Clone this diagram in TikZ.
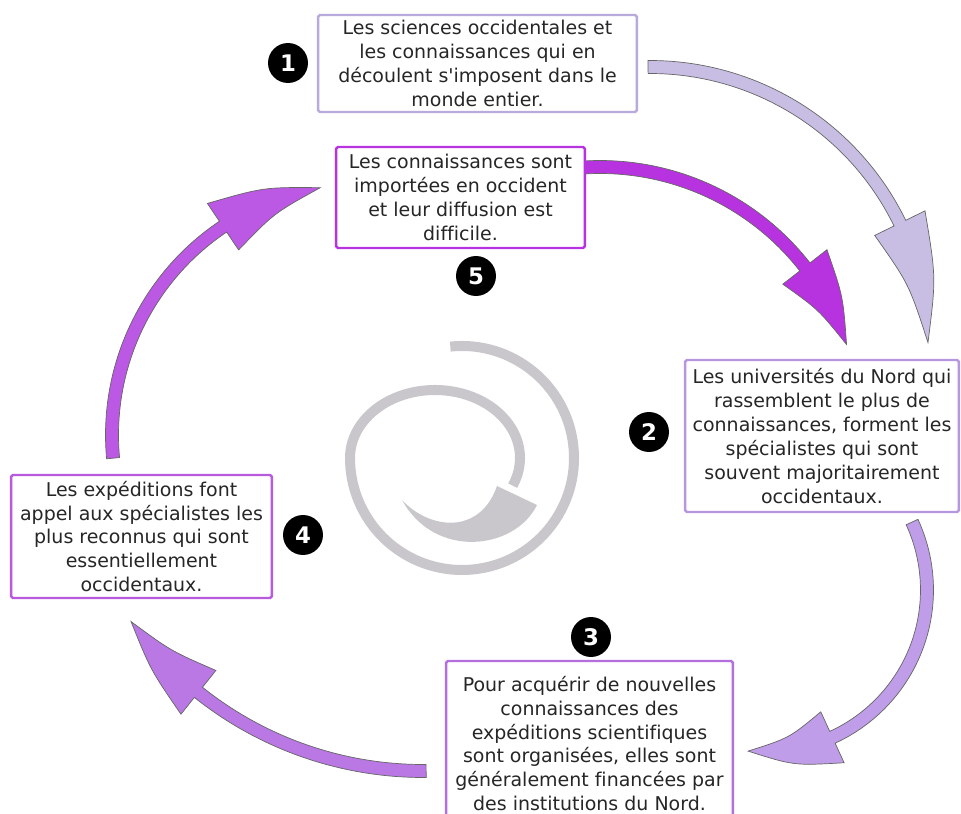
\documentclass[tikz,border=0pt]{standalone}
\usepackage{fontspec}
\setmainfont{DejaVu Sans}[Ligatures=NoCommon]
\definecolor{lavlight}{RGB}{200,190,228}
\definecolor{lavbox}{RGB}{184,170,218}
\definecolor{magentafive}{RGB}{184,51,224}
\definecolor{lavmid}{RGB}{191,157,232}
\definecolor{lavmidbox}{RGB}{183,150,224}
\definecolor{purplethree}{RGB}{185,120,228}
\definecolor{purplethreebox}{RGB}{180,110,222}
\definecolor{purplefour}{RGB}{187,88,228}
\definecolor{purplefourbox}{RGB}{184,90,222}
\definecolor{spiralgray}{RGB}{201,199,204}

% big curved block arrow: centre x, centre y, radius, start, head base, tip angle, colour
\newcommand{\cyclearrow}[7]{%
  \pgfmathsetmacro{\ro}{#3+6.5}
  \pgfmathsetmacro{\ri}{#3-6.5}
  \pgfmathsetmacro{\ho}{#3+28}
  \pgfmathsetmacro{\hi}{#3-28}
  \pgfmathsetmacro{\co}{#3+16}
  \pgfmathsetmacro{\ci}{#3-12}
  \pgfmathsetmacro{\amid}{(#5+#6)/2}
  \filldraw[arrowline, fill=#7, shift={(#1,#2)}]
    (#4:\ro) arc[start angle=#4, end angle=#5, radius=\ro]
    -- (#5:\ho) .. controls (\amid:\co) .. (#6:#3)
    .. controls (\amid:\ci) .. (#5:\hi)
    -- (#5:\ri) arc[start angle=#5, end angle=#4, radius=\ri] -- cycle;
}

\begin{document}
\begin{tikzpicture}[x=0.02cm, y=-0.02cm,
  box/.style={draw=#1, fill=white, line width=1.4pt, rounded corners=1pt,
    align=center, inner sep=0pt, text=black!85,
    font=\fontsize{10.8}{13.6}\selectfont},
  numdot/.style={circle, fill=black, text=white, minimum size=0.8cm,
    inner sep=0pt, font=\fontsize{13}{13}\selectfont\bfseries},
  arrowline/.style={draw=black!60, line width=0.4pt},
  spiral/.style={draw=spiralgray, line width=5.7pt}]
\useasboundingbox (0,0) rectangle (961,814);
\clip (0,0) rectangle (961,814);

% Cycle arrows
\cyclearrow{650}{345}{278}{-90.4}{-26}{-0.5}{lavlight}
\cyclearrow{600}{427}{260}{-93.7}{-38}{-18.5}{magentafive}
\cyclearrow{765}{590}{162}{-24.8}{65.4}{96}{lavmid}
\cyclearrow{423}{411}{360}{89.5}{128.6}{144.2}{purplethree}
\cyclearrow{363}{435}{251}{174.7}{236.1}{260.2}{purplefour}

% Centre spiral
\draw[spiral] (450.3,346.6) arc[start angle=-96, end angle=180, radius=112]
  arc[start angle=180, end angle=384, x radius=85, y radius=68];
\fill[spiralgray] (497,486) -- (537,505)
  .. controls (515,550) and (435,560) .. (402,500)
  .. controls (430,530) and (480,535) .. (497,486) -- cycle;

% Steps
\node[box=lavbox, minimum width=6.38cm, minimum height=1.94cm] (sciences) at (477.5,63.5)
  {Les sciences occidentales et\\les connaissances qui en\\découlent s\textquotesingle imposent dans le\\monde entier.};
\node[box=lavmidbox, minimum width=5.48cm, minimum height=3.04cm] (univ) at (822,436)
  {Les universités du Nord qui\\rassemblent le plus de\\connaissances, forment les\\spécialistes qui sont\\souvent majoritairement\\occidentaux.};
\node[box=purplethreebox, minimum width=5.74cm, minimum height=3.3cm] (expeditions) at (589.5,743.5)
  {Pour acquérir de nouvelles\\connaissances des\\expéditions scientifiques\\sont organisées, elles sont\\généralement financées par\\des institutions du Nord.};
\node[box=purplefourbox, minimum width=5.22cm, minimum height=2.46cm] (specialists) at (141.5,536.5)
  {Les expéditions font\\appel aux spécialistes les\\plus reconnus qui sont\\essentiellement\\occidentaux.};
\node[box=magentafive, minimum width=4.98cm, minimum height=2.02cm] (import) at (460.5,197.5)
  {Les connaissances sont\\importées en occident\\et leur diffusion est\\difficile.};

% Numbers
\node[numdot] (n1) at (288,63) {1};
\node[numdot] (n2) at (649,432) {2};
\node[numdot] (n3) at (591,637) {3};
\node[numdot] (n4) at (303,535) {4};
\node[numdot] (n5) at (476,276) {5};
\end{tikzpicture}
\end{document}
